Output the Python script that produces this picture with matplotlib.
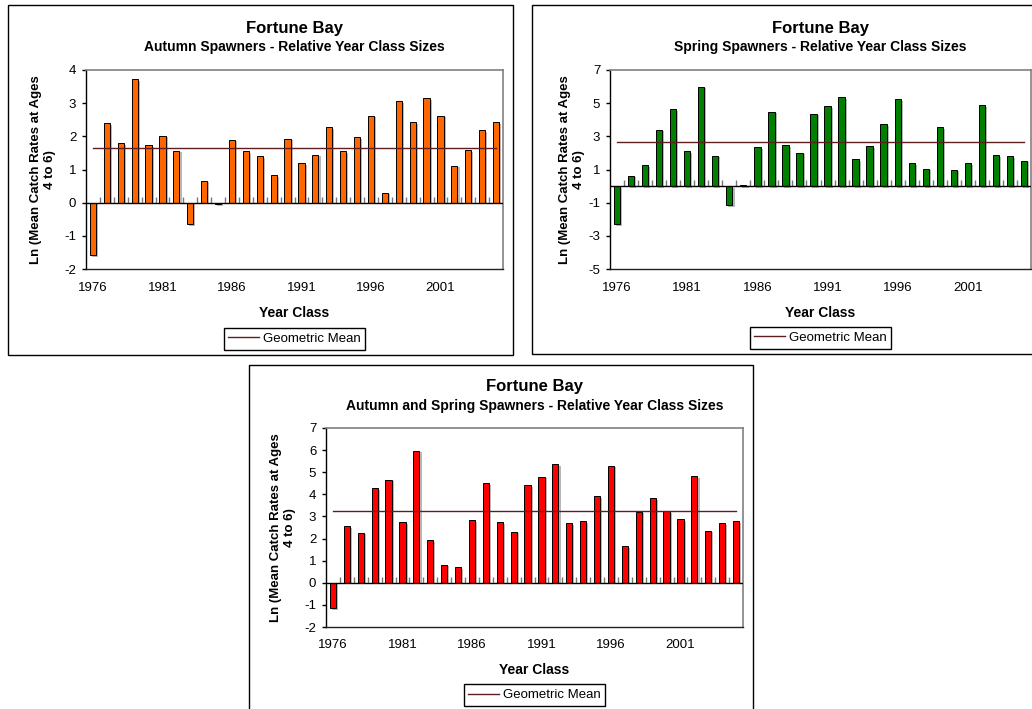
import matplotlib
matplotlib.use("Agg")
import matplotlib.pyplot as plt
import matplotlib.patheffects as pe
from matplotlib.patches import Rectangle
from matplotlib.lines import Line2D

plt.rcParams['font.family'] = ['Liberation Sans', 'DejaVu Sans']
plt.rcParams['axes.unicode_minus'] = False

W, H = 1032, 709

years = list(range(1976, 2006))

autumn = [-1.59, 2.39, 1.80, 3.72, 1.74, 2.02, 1.57, -0.64, 0.66, -0.04,
          1.90, 1.55, 1.40, 0.82, 1.93, 1.20, 1.45, 2.28, 1.55, 1.97,
          2.62, 0.30, 3.06, 2.43, 3.15, 2.62, 1.12, 1.58, 2.18, 2.43]
autumn_mean = 1.64

spring = [-2.29, 0.62, 1.26, 3.41, 4.62, 2.09, 6.00, 1.83, -1.16, 0.07,
          2.35, 4.48, 2.47, 2.02, 4.37, 4.81, 5.37, 1.62, 2.41, 3.73,
          5.25, 1.38, 1.06, 3.55, 1.00, 1.38, 4.87, 1.85, 1.79, 1.53]
spring_mean = 2.65

combined = [-1.16, 2.55, 2.27, 4.29, 4.66, 2.73, 5.97, 1.93, 0.82, 0.71,
            2.82, 4.51, 2.73, 2.31, 4.42, 4.80, 5.36, 2.69, 2.78, 3.91,
            5.30, 1.65, 3.22, 3.82, 3.23, 2.87, 4.83, 2.36, 2.69, 2.79]
combined_mean = 3.25

label_years = [1976, 1981, 1986, 1991, 1996, 2001]
mean_color = '#5c1f1f'

fig = plt.figure(figsize=(W / 100, H / 100), dpi=100)


def fx(px):
    return px / W


def fy(py):
    return 1 - py / H


def panel(frame, box, values, mean, color, ylim, yticks, subtitle,
          title_y, sub_y, ylab_x, xlab_y, leg_y):
    # outer chart frame
    fl, ft, fr, fb = frame
    fig.patches.append(Rectangle((fx(fl), fy(fb)), fx(fr - fl), (fb - ft) / H,
                                 transform=fig.transFigure, fill=False,
                                 edgecolor='black', linewidth=1.0))
    l, t, r, b = box
    ax = fig.add_axes([fx(l), fy(b), fx(r - l), (b - t) / H])
    cx = (l + r) / 2

    bars = ax.bar(years, values, width=0.45, color=color, edgecolor='black',
                  linewidth=0.7, zorder=3)
    for p in bars:
        p.set_path_effects([pe.SimplePatchShadow(offset=(1.5, -1.2),
                                                 shadow_rgbFace='#888888',
                                                 alpha=0.6), pe.Normal()])
    ax.plot([years[0], years[-1]], [mean, mean], color=mean_color,
            linewidth=1.0, zorder=4)

    # category axis crossing at zero, with small ticks between categories
    ax.axhline(0, color='black', linewidth=1.0, zorder=5)
    ax.plot([y + 0.5 for y in years[:-1]], [0] * (len(years) - 1),
            linestyle='none', marker=2, markersize=4, color='#777777',
            markeredgewidth=1.0, zorder=2)

    ax.set_xlim(years[0] - 0.5, years[-1] + 0.5)
    ax.set_ylim(*ylim)
    ax.set_yticks(yticks)
    ax.set_xticks(label_years)
    ax.tick_params(axis='x', length=0, pad=9, labelsize=9.5)
    ax.tick_params(axis='y', length=3, width=1, direction='out', pad=4,
                   labelsize=9.5)
    for side in ('top', 'right'):
        ax.spines[side].set_color('#808080')
        ax.spines[side].set_linewidth(1.2)
    ax.spines['left'].set_linewidth(1.0)
    ax.spines['bottom'].set_linewidth(1.0)
    ax.spines['bottom'].set_color('#222222')

    fig.text(fx(cx), fy(title_y), 'Fortune Bay', ha='center', va='center',
             fontsize=12, fontweight='bold')
    fig.text(fx(cx), fy(sub_y), subtitle, ha='center', va='center',
             fontsize=10, fontweight='bold')
    fig.text(fx(ylab_x), fy((t + b) / 2), 'Ln (Mean Catch Rates at Ages\n4 to 6)',
             ha='center', va='center', rotation=90, fontsize=9.5,
             fontweight='bold', multialignment='center', linespacing=1.3)
    fig.text(fx(cx), fy(xlab_y), 'Year Class', ha='center', va='center',
             fontsize=10, fontweight='bold')
    handle = Line2D([], [], color=mean_color, linewidth=1.0)
    leg = fig.legend(handles=[handle], labels=['Geometric Mean'], loc='center',
                     bbox_to_anchor=(fx(cx), fy(leg_y)), fontsize=9.5,
                     fancybox=False, edgecolor='black', framealpha=1,
                     handlelength=2.3, handletextpad=0.3, borderpad=0.35,
                     borderaxespad=0)
    leg.get_frame().set_linewidth(1.0)
    return ax


panel((8, 5, 513, 355), (86, 70, 503, 269), autumn, autumn_mean, '#ff6600',
      (-2, 4), range(-2, 5), 'Autumn Spawners - Relative Year Class Sizes',
      title_y=28, sub_y=47, ylab_x=43, xlab_y=313, leg_y=339)

panel((532, 5, 1045, 354), (610, 70, 1031, 269), spring, spring_mean, '#008000',
      (-5, 7), range(-5, 8, 2), 'Spring Spawners - Relative Year Class Sizes',
      title_y=28, sub_y=47, ylab_x=572, xlab_y=313, leg_y=338)

panel((249, 365, 753, 720), (326, 428, 743, 627), combined, combined_mean,
      '#ff0000', (-2, 7), range(-2, 8),
      'Autumn and Spring Spawners - Relative Year Class Sizes',
      title_y=387, sub_y=406, ylab_x=283, xlab_y=670, leg_y=695)

fig.savefig('out.png', dpi=100)
